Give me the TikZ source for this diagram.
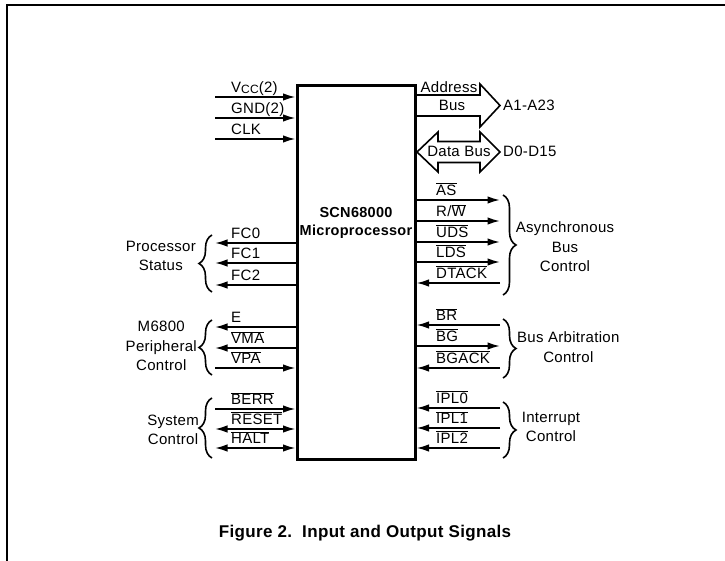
\documentclass[tikz,border=0pt]{standalone}
\usepackage{fontspec}
\setmainfont{Liberation Sans}[LetterSpace=2]
\usetikzlibrary{arrows.meta,decorations.pathreplacing}
\newcommand{\ovl}[1]{\ensuremath{\overline{\mbox{#1}}}}
\tikzset{
  >={Latex[length=12.5pt,width=7.5pt]},
  chipbox/.style={draw,line width=3pt,minimum width=118pt,minimum height=373pt,inner sep=0pt},
  sig/.style={line width=1.7pt},
  tochip/.style={sig,->},
  fromchip/.style={sig,<-},
  bidir/.style={sig,<->},
  sgl/.style={font=\fontsize{15}{15}\selectfont,anchor=base west,inner sep=0pt},
  grp/.style={font=\fontsize{15}{19.5}\selectfont,align=center,inner sep=0pt},
  brc/.style={decorate,decoration={brace,amplitude=13pt},line width=1.6pt},
  busout/.style={line width=1.6pt,line join=miter},
  frame/.style={line width=2.8pt},
}
\begin{document}
\begin{tikzpicture}[x=1pt,y=-1pt,
  capt/.style={font=\bfseries\fontsize{17}{17}\selectfont,anchor=base,inner sep=0pt}]
  \useasboundingbox (0,0) rectangle (725,561);
  \draw[frame] (7,561) -- (7,5) -- (725,5);
  \node[chipbox] (chip) at (356,272.5) {};
  \node[font=\bfseries\fontsize{14.5}{18.5}\selectfont,align=center] (chipname) at (356,223) {SCN68000\\Microprocessor};
  \foreach \n/\y/\dir/\lbl in {vcc/97/tochip/{V\raisebox{-1.5pt}{\fontsize{12}{12}\selectfont CC}(2)},
      gnd/118/tochip/{GND(2)}, clk/139/tochip/CLK, fc0/243/fromchip/FC0, fc1/263/fromchip/FC1,
      fc2/285/fromchip/FC2, e/327/fromchip/E, vma/348/fromchip/\ovl{VMA}, vpa/368/tochip/\ovl{VPA},
      berr/409/tochip/\ovl{BERR}, reset/429/bidir/\ovl{RESET}, halt/448/bidir/\ovl{HALT}}{
    \coordinate (\n) at (215,\y);
    \draw[\dir] (\n) -- (\n -| chip.west);
    \node[sgl] (\n-lbl) at (231,\y-4.5) {\lbl};
  }
  \foreach \n/\y/\dir/\lbl in {as/200/fromchip/\ovl{AS}, rw/221/fromchip/{R/\ovl{W}},
      uds/242/fromchip/\ovl{UDS}, lds/262/fromchip/\ovl{LDS}, dtack/283/tochip/\ovl{DTACK},
      br/325/tochip/\ovl{BR}, bg/346/fromchip/\ovl{BG}, bgack/368/tochip/\ovl{BGACK},
      ipl0/408/tochip/\ovl{IPL0}, ipl1/428/tochip/\ovl{IPL1}, ipl2/448/tochip/\ovl{IPL2}}{
    \coordinate (\n) at (500,\y);
    \draw[\dir] (\n) -- (\n -| chip.east);
    \node[sgl] (\n-lbl) at (436,\y-4.5) {\lbl};
  }
  \draw[busout] (415,95) -- (480,95) -- (480,84) -- (500,105.5) -- (480,127) -- (480,116) -- (415,116);
  \draw[busout] (417,152) -- (438,132) -- (438,141.5) -- (480,141.5) -- (480,132) -- (500,152)
    -- (480,172) -- (480,162.5) -- (438,162.5) -- (438,172) -- cycle;
  \node[sgl,anchor=base] (addr) at (449,93) {Address};
  \node[sgl,anchor=base] (addrbus) at (452,110.5) {Bus};
  \node[sgl] (abus) at (503,110.5) {A1-A23};
  \node[sgl,anchor=base] (databus) at (459,157) {Data Bus};
  \node[sgl] (dbus) at (503,157) {D0-D15};
  \coordinate (asynctop) at (503,195);
  \coordinate (asyncbot) at (503,295);
  \coordinate (arbtop) at (503,319);
  \coordinate (arbbot) at (503,378);
  \coordinate (irqtop) at (503,402);
  \coordinate (irqbot) at (503,458);
  \coordinate (pstattop) at (212,235);
  \coordinate (pstatbot) at (212,292);
  \coordinate (periftop) at (212,320);
  \coordinate (perifbot) at (212,375);
  \coordinate (systop) at (212,398);
  \coordinate (sysbot) at (212,458);
  \draw[brc] (asynctop) -- (asyncbot);
  \draw[brc] (arbtop) -- (arbbot);
  \draw[brc] (irqtop) -- (irqbot);
  \draw[brc] (pstatbot) -- (pstattop);
  \draw[brc] (perifbot) -- (periftop);
  \draw[brc] (sysbot) -- (systop);
  \node[grp] (async) at (565,247) {Asynchronous\\Bus\\Control};
  \node[grp,anchor=west] (arb) at (517,347) {Bus Arbitration\\Control};
  \node[grp] (irq) at (551,427) {Interrupt\\Control};
  \node[grp,anchor=east] (pstat) at (196,256) {Processor\\Status};
  \node[grp,anchor=east] (perif) at (197,346) {M6800\\Peripheral\\Control};
  \node[grp,anchor=east] (sysctl) at (199,430) {System\\Control};
  \node[capt] (caption) at (365,537) {Figure 2.\ \ Input and Output Signals};
\end{tikzpicture}
\end{document}
